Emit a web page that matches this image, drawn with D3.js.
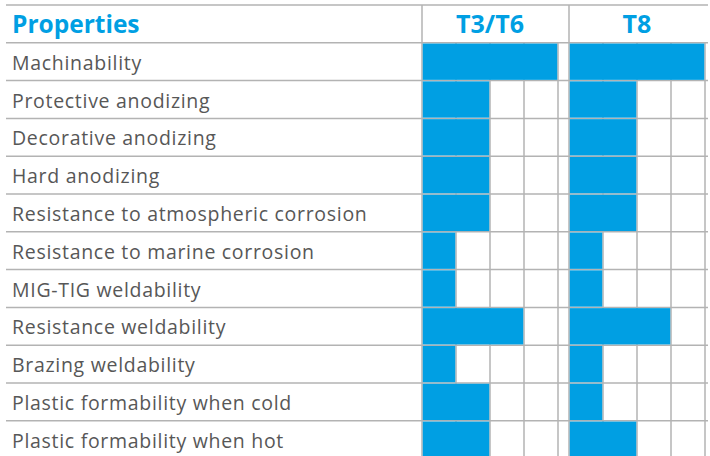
<!DOCTYPE html>
<html>
<head>
<meta charset="utf-8">
<script src="https://cdn.jsdelivr.net/npm/d3@7"></script>
<style>
  body { margin: 0; background: #fff; }
  svg { display: block; }
</style>
</head>
<body>
<svg width="710" height="456"></svg>
<script>
// DATA
var properties = [
    "Machinability",
    "Protective anodizing",
    "Decorative anodizing",
    "Hard anodizing",
    "Resistance to atmospheric corrosion",
    "Resistance to marine corrosion",
    "MIG-TIG weldability",
    "Resistance weldability",
    "Brazing weldability",
    "Plastic formability when cold",
    "Plastic formability when hot"
];
var tempers = ["T3/T6", "T8"];
var t3t6Values = [4, 2, 2, 2, 2, 1, 1, 3, 1, 2, 2];
var t8Values = [4, 2, 2, 2, 2, 1, 1, 3, 1, 1, 2];
var maxLevel = 4;
var headerLabel = "Properties";

var blue = "#009fe3",
    lineColor = "#b3b3b3",
    textColor = "#575757",
    font = "'Open Sans', sans-serif";

var svg = d3.select("svg");

var rowKeys = ["__header"].concat(properties);
var yScale = d3.scaleBand().domain(rowKeys).range([5, 5 + rowKeys.length * 37.8]);
var groupScale = d3.scaleBand().domain(tempers).range([422, 705]).paddingInner(11 / 147);
var levelScale = d3.scaleLinear().domain([0, maxLevel]).range([0, groupScale.bandwidth()]);

var valuesByTemper = { "T3/T6": t3t6Values, "T8": t8Values };
var bottom = yScale.range()[1];

// horizontal row lines
var rowLines = rowKeys.map(function (k) { return yScale(k); });
rowLines.push(yScale(properties[properties.length - 1]) + yScale.bandwidth());
svg.append("g").selectAll("line")
    .data(rowLines)
    .enter().append("line")
    .attr("x1", 6).attr("x2", 708)
    .attr("y1", function (d) { return d; })
    .attr("y2", function (d) { return d; })
    .attr("stroke", lineColor)
    .attr("stroke-width", 1.5);

// vertical lines: header edges + grid
var bodyTop = yScale(properties[0]);
tempers.forEach(function (t) {
    var x0 = groupScale(t);
    svg.append("line")
        .attr("x1", x0).attr("x2", x0)
        .attr("y1", yScale("__header")).attr("y2", bodyTop)
        .attr("stroke", lineColor).attr("stroke-width", 1.5);
    svg.append("g").selectAll("line")
        .data(d3.range(0, maxLevel + 1))
        .enter().append("line")
        .attr("x1", function (d) { return x0 + levelScale(d); })
        .attr("x2", function (d) { return x0 + levelScale(d); })
        .attr("y1", bodyTop).attr("y2", bottom)
        .attr("stroke", lineColor).attr("stroke-width", 1.5);
});

// bars
tempers.forEach(function (t) {
    var x0 = groupScale(t);
    svg.append("g").selectAll("rect")
        .data(valuesByTemper[t])
        .enter().append("rect")
        .attr("x", x0 + 0.75)
        .attr("y", function (d, i) { return yScale(properties[i]) + 0.75; })
        .attr("width", function (d) { return levelScale(d) - 1.5; })
        .attr("height", yScale.bandwidth() - 1.5)
        .attr("fill", blue);
});

// header texts
svg.append("text")
    .attr("x", 12)
    .attr("y", yScale("__header") + 28)
    .attr("font-family", font)
    .attr("font-size", "24.5px")
    .attr("font-weight", "bold")
    .attr("fill", blue)
    .text(headerLabel);

svg.append("g").selectAll("text")
    .data(tempers)
    .enter().append("text")
    .attr("x", function (d) { return groupScale(d) + groupScale.bandwidth() / 2; })
    .attr("y", yScale("__header") + 28)
    .attr("text-anchor", "middle")
    .attr("font-family", font)
    .attr("font-size", "25px")
    .attr("font-weight", "bold")
    .attr("fill", blue)
    .text(function (d) { return d; });

// property labels
svg.append("g").selectAll("text")
    .data(properties)
    .enter().append("text")
    .attr("x", 12)
    .attr("y", function (d) { return yScale(d) + 27; })
    .attr("font-family", font)
    .attr("font-size", "19.5px")
    .attr("letter-spacing", "0.7px")
    .attr("fill", textColor)
    .text(function (d) { return d; });
</script>
</body>
</html>
